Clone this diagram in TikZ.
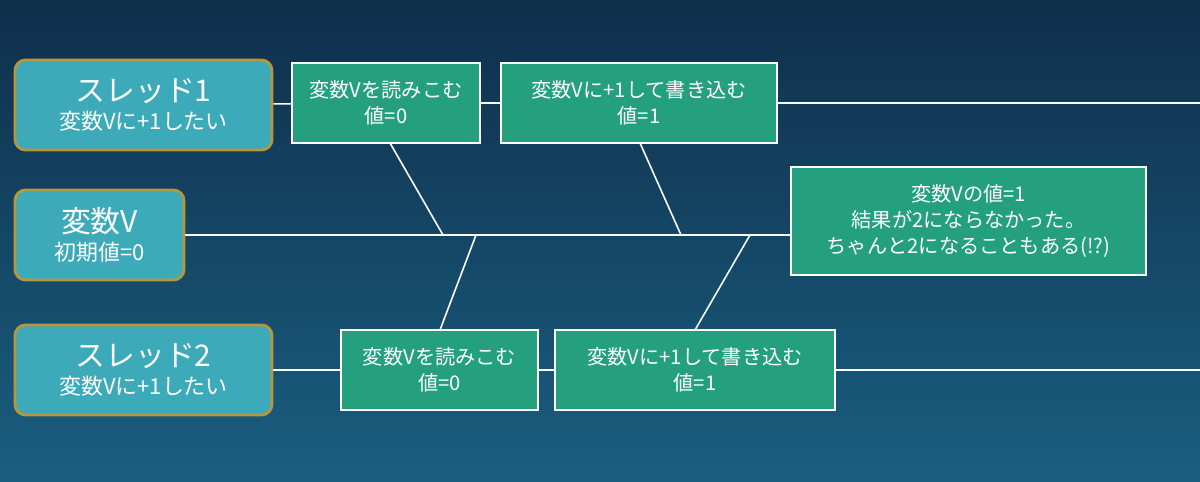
\documentclass[tikz,border=0pt]{standalone}
\usepackage{fontspec}
\setmainfont{Noto Sans CJK JP}
\definecolor{bgtop}{HTML}{0F2F4B}
\definecolor{bgbot}{HTML}{1A5E80}
\definecolor{thread}{HTML}{3DAABA}
\definecolor{gold}{HTML}{B8963C}
\definecolor{step}{HTML}{24A07F}
\tikzset{
  threadbox/.style={draw=gold, line width=1.6pt, fill=thread, rounded corners=6pt, text=white, align=center, inner sep=0pt, font=\fontsize{12.5}{16}\selectfont},
  stepbox/.style={draw=white, line width=0.9pt, fill=step, text=white, align=center, inner sep=0pt, font=\fontsize{11.5}{15}\selectfont},
  wire/.style={draw=white, line width=0.9pt}
}
\begin{document}
\begin{tikzpicture}[x=0.02cm, y=-0.02cm]
  \shade[top color=bgtop, bottom color=bgbot] (0,0) rectangle (1200,482);
  \useasboundingbox (0,0) rectangle (1200,482);
  % left boxes
  \node[threadbox, minimum width=257*0.02cm, minimum height=90*0.02cm] (t1) at (143.5,105) {{\fontsize{17}{19}\selectfont スレッド1}\\変数Vに+1したい};
  \node[threadbox, minimum width=169*0.02cm, minimum height=90*0.02cm] (v) at (99.5,235) {{\fontsize{17}{19}\selectfont 変数V}\\初期値=0};
  \node[threadbox, minimum width=257*0.02cm, minimum height=90*0.02cm] (t2) at (143.5,370) {{\fontsize{17}{19}\selectfont スレッド2}\\変数Vに+1したい};
  % step boxes
  \node[stepbox, minimum width=188*0.02cm, minimum height=80*0.02cm] (r1) at (386,103) {変数Vを読みこむ\\値=0};
  \node[stepbox, minimum width=276*0.02cm, minimum height=80*0.02cm] (w1) at (639,103) {変数Vに+1して書き込む\\値=1};
  \node[stepbox, minimum width=197*0.02cm, minimum height=80*0.02cm] (r2) at (439.5,370) {変数Vを読みこむ\\値=0};
  \node[stepbox, minimum width=280*0.02cm, minimum height=80*0.02cm] (w2) at (695,370) {変数Vに+1して書き込む\\値=1};
  \node[stepbox, minimum width=355*0.02cm, minimum height=108*0.02cm] (res) at (968.5,221) {変数Vの値=1\\結果が2にならなかった。\\ちゃんと2になることもある(!?)};
  % line ends
  \coordinate (e1) at (1200,103);
  \coordinate (e2) at (1200,370);
  \coordinate (a1) at (390,143);
  \coordinate (a2) at (443,235);
  \coordinate (b1) at (640,143);
  \coordinate (b2) at (681,235);
  \coordinate (c1) at (476,235);
  \coordinate (c2) at (440,330);
  \coordinate (d1) at (750,235);
  \coordinate (d2) at (695,330);
  % timelines
  \draw[wire] (t1) -- (r1) (r1) -- (w1) (w1) -- (e1);
  \draw[wire] (v) -- (v -| res.west);
  \draw[wire] (t2) -- (r2) (r2) -- (w2) (w2) -- (e2);
  \draw[wire] (a1) -- (a2) (b1) -- (b2) (c1) -- (c2) (d1) -- (d2);
\end{tikzpicture}
\end{document}
